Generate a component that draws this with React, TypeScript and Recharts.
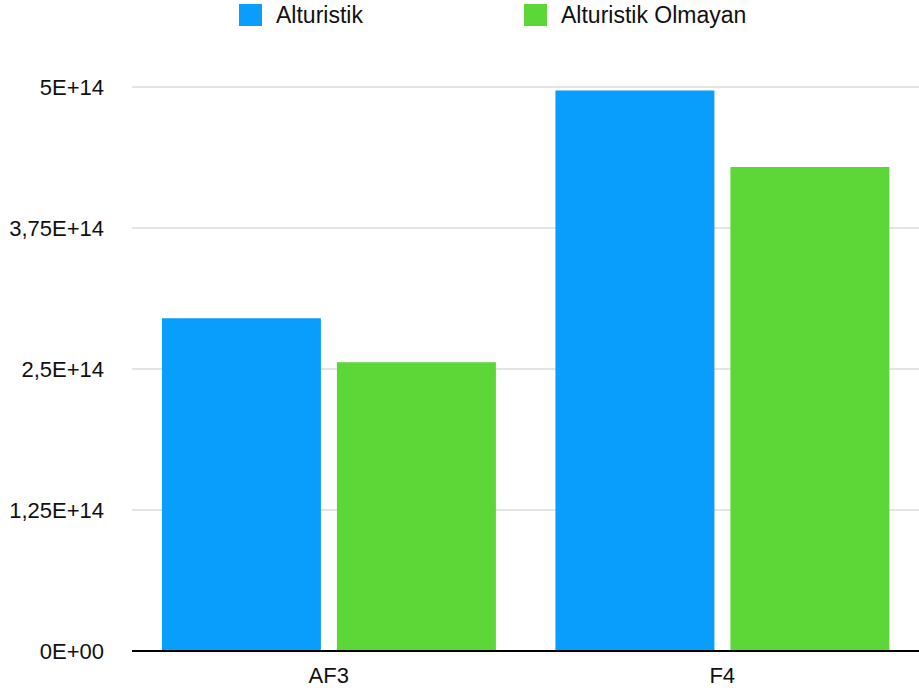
import { Bar, BarChart, CartesianGrid, Legend, XAxis, YAxis } from "recharts";

const categories = ["AF3", "F4"];
const alturistik = [2.95e14, 4.97e14];
const olmayan = [2.56e14, 4.29e14];
const yTicks = [0, 1.25e14, 2.5e14, 3.75e14, 5e14];
const yTickLabels = ["0E+00", "1,25E+14", "2,5E+14", "3,75E+14", "5E+14"];

const series = [
  { key: "alturistik", name: "Alturistik", color: "#0a9efc" },
  { key: "olmayan", name: "Alturistik Olmayan", color: "#5dd637" },
];

const data = categories.map((c, i) => ({
  name: c,
  alturistik: alturistik[i],
  olmayan: olmayan[i],
}));

const font = '"Liberation Sans", Arial, Helvetica, sans-serif';

function renderLegend() {
  return (
    <div style={{ display: "flex", paddingLeft: 239, fontFamily: font }}>
      {series.map((s) => (
        <div key={s.key} style={{ width: 285, display: "flex", alignItems: "center", height: 30 }}>
          <span style={{ width: 23, height: 22, background: s.color, display: "inline-block" }} />
          <span style={{ marginLeft: 14, fontSize: 23, color: "#111" }}>{s.name}</span>
        </div>
      ))}
    </div>
  );
}

export default function App() {
  return (
    <div style={{ position: "absolute", left: 0, top: 0, width: 919, height: 691, background: "#fff" }}>
      <BarChart
        width={919}
        height={691}
        data={data}
        margin={{ top: 57, right: 0, left: 0, bottom: 0 }}
        barCategoryGap="7.6%"
        barGap={16}
      >
        <CartesianGrid vertical={false} stroke="#c9c9c9" strokeWidth={1} />
        <XAxis
          dataKey="name"
          height={40}
          tickSize={0}
          tickMargin={16}
          axisLine={{ stroke: "#000", strokeWidth: 2 }}
          tick={{ fill: "#111", fontSize: 22, fontFamily: font }}
        />
        <YAxis
          width={132}
          domain={[0, 5e14]}
          ticks={yTicks}
          tickFormatter={(v: number) => yTickLabels[yTicks.indexOf(v)] ?? ""}
          axisLine={false}
          tickSize={0}
          tickMargin={28}
          tick={{ fill: "#111", fontSize: 22, fontFamily: font }}
        />
        <Legend
          verticalAlign="top"
          content={renderLegend}
          wrapperStyle={{ top: 0, left: 0, width: 919 }}
        />
        {series.map((s) => (
          <Bar key={s.key} dataKey={s.key} name={s.name} fill={s.color} isAnimationActive={false} />
        ))}
      </BarChart>
    </div>
  );
}
